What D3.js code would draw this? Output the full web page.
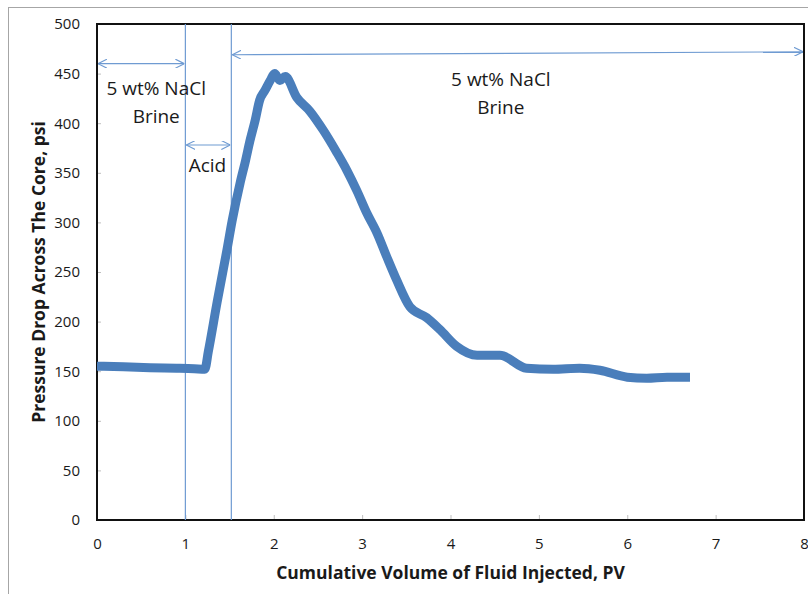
<!DOCTYPE html>
<html>
<head>
<meta charset="utf-8">
<script src="https://cdn.jsdelivr.net/npm/d3@7"></script>
<style>
  body { margin: 0; background: #fff; }
  text { font-family: "Open Sans", "Noto Sans", sans-serif; fill: #1a1a1a; }
  .tick text { font-size: 15px; }
  .axis-title { font-size: 17.5px; font-weight: bold; }
  .note { font-size: 19px; }
</style>
</head>
<body>
<svg width="808" height="594"></svg>
<script>
// Pressure drop data (PV, psi)
const pv  = [0, 0.3, 0.6, 0.9, 1.1, 1.22, 1.26, 1.36, 1.47, 1.53, 1.62, 1.68, 1.73, 1.79, 1.84, 1.9, 1.96, 2.01, 2.07, 2.13,
             2.26, 2.41, 2.56, 2.71, 2.83, 2.94, 3.05, 3.17, 3.28, 3.39, 3.54, 3.73, 3.88, 4.07, 4.3, 4.56, 4.86, 5.16, 5.46, 5.69, 6.0, 6.22, 6.45, 6.71];
const psi = [155, 154.5, 153.5, 153, 152.5, 152, 170, 220, 272, 302, 340, 362, 382, 403, 423, 433, 443, 450, 443, 447,
             426, 412, 393, 371, 352, 332, 310, 289, 265, 242, 215, 204, 192, 175, 166, 166, 153, 152, 153, 151, 144, 143, 144, 144];

const xTicks = [0, 1, 2, 3, 4, 5, 6, 7, 8];
const yTicks = [0, 50, 100, 150, 200, 250, 300, 350, 400, 450, 500];

// stage boundaries (PV) and the arrows marking each stage
const stageLines = [1, 1.52];
const stageArrows = [
  { x0: 0, x1: 1, y0: 460, y1: 460 },
  { x0: 1, x1: 1.52, y0: 378, y1: 378 },
  { x0: 1.52, x1: 8, y0: 469, y1: 472 }
];
const stageLabels = [
  { x: 0.67, y: 428, lines: ["5 wt% NaCl", "Brine"] },
  { x: 1.25, y: 351, lines: ["Acid"] },
  { x: 4.57, y: 437, lines: ["5 wt% NaCl", "Brine"] }
];

const margin = { top: 24, right: 4, bottom: 74, left: 97 },
      width = 808 - margin.left - margin.right,
      height = 594 - margin.top - margin.bottom;

const root = d3.select("svg");

// outer chart frame
root.append("rect")
  .attr("x", 8.5).attr("y", 7.5)
  .attr("width", 820).attr("height", 620)
  .attr("fill", "none").attr("stroke", "#a6a6a6");

const svg = root.append("g")
  .attr("transform", `translate(${margin.left},${margin.top})`);

const x = d3.scaleLinear().domain([0, 8]).range([0, width]);
const y = d3.scaleLinear().domain([0, 500]).range([height, 0]);

// Axes
const xAxis = svg.append("g")
  .attr("transform", `translate(0,${height})`)
  .call(d3.axisBottom(x).tickValues(xTicks).tickSize(-5).tickPadding(18));
const yAxis = svg.append("g")
  .call(d3.axisLeft(y).tickValues(yTicks).tickSize(-4).tickPadding(17));

[xAxis, yAxis].forEach(a => {
  a.select(".domain").remove();
  a.selectAll(".tick line").attr("stroke", "#bfbfbf");
  a.selectAll(".tick text").attr("fill", "#1a1a1a");
});

// plot frame (black)
svg.append("rect")
  .attr("width", width).attr("height", height)
  .attr("fill", "none").attr("stroke", "#111").attr("stroke-width", 2);

// stage lines and arrows
const blue = "#6f9bd2";
svg.append("defs").append("marker")
  .attr("id", "arr")
  .attr("viewBox", "0 0 10 10")
  .attr("refX", 10).attr("refY", 5)
  .attr("markerWidth", 9).attr("markerHeight", 9)
  .attr("markerUnits", "userSpaceOnUse")
  .attr("orient", "auto-start-reverse")
  .append("path")
  .attr("d", "M0,0 L10,5 L0,10")
  .attr("fill", "none").attr("stroke", blue).attr("stroke-width", 1.3);

svg.selectAll(".stage")
  .data(stageLines)
  .enter().append("line")
  .attr("x1", d => x(d)).attr("x2", d => x(d))
  .attr("y1", 0).attr("y2", height)
  .attr("stroke", blue).attr("stroke-width", 1.2);

svg.selectAll(".arrow")
  .data(stageArrows)
  .enter().append("line")
  .attr("x1", d => x(d.x0) + 1).attr("x2", d => x(d.x1) - 1)
  .attr("y1", d => y(d.y0)).attr("y2", d => y(d.y1))
  .attr("stroke", blue).attr("stroke-width", 1.2)
  .attr("marker-start", "url(#arr)").attr("marker-end", "url(#arr)");

const lab = svg.selectAll(".note")
  .data(stageLabels)
  .enter().append("text")
  .attr("class", "note")
  .attr("text-anchor", "middle")
  .attr("x", d => x(d.x))
  .attr("y", d => y(d.y));
lab.selectAll("tspan")
  .data(d => d.lines.map(t => ({ t, x: d.x })))
  .enter().append("tspan")
  .attr("x", d => x(d.x))
  .attr("dy", (d, i) => i ? 28 : 0)
  .text(d => d.t);

// pressure curve
const pts = pv.map((v, i) => [v, psi[i]]);
svg.append("path")
  .datum(pts)
  .attr("fill", "none")
  .attr("stroke", "#4a7ebb")
  .attr("stroke-width", 9)
  .attr("stroke-linejoin", "round")
  .attr("d", d3.line().x(d => x(d[0])).y(d => y(d[1])).curve(d3.curveMonotoneX));

// axis titles
root.append("text")
  .attr("class", "axis-title")
  .attr("text-anchor", "middle")
  .attr("x", margin.left + width / 2)
  .attr("y", 579)
  .text("Cumulative Volume of Fluid Injected, PV");

root.append("text")
  .attr("class", "axis-title")
  .attr("text-anchor", "middle")
  .attr("transform", `translate(45,${margin.top + height / 2}) rotate(-90)`)
  .text("Pressure Drop Across The Core, psi");
</script>
</body>
</html>
